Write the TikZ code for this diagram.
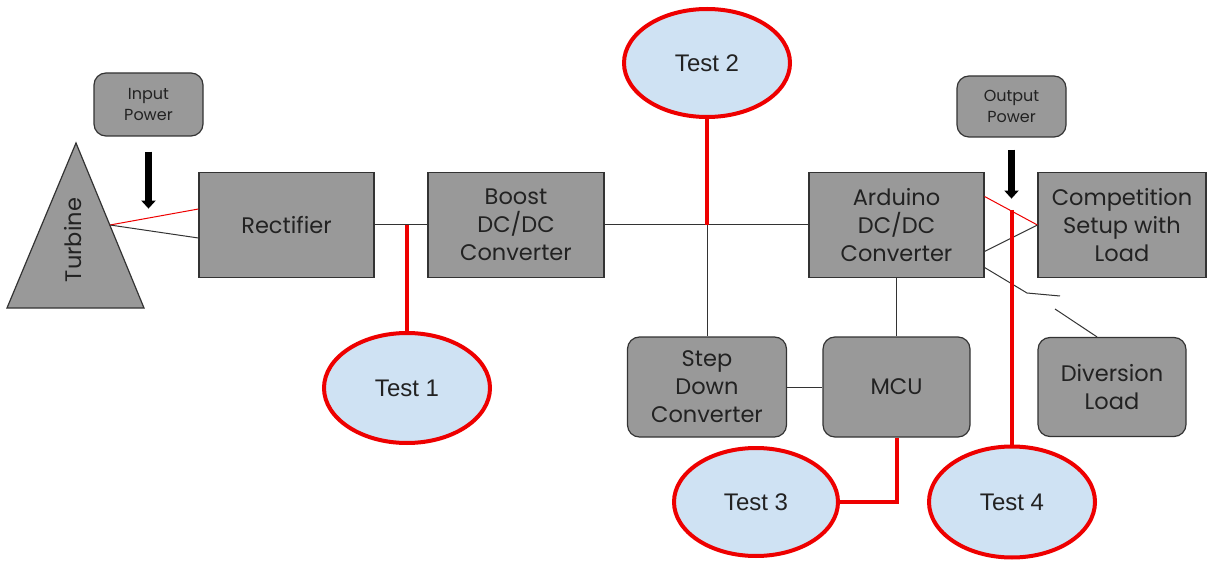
\documentclass[tikz,border=0pt]{standalone}
\usepackage{fontspec}
\setmainfont{Poppins}
\newfontfamily\testfont{Liberation Sans}
\usetikzlibrary{shapes.geometric,arrows.meta,calc}
\definecolor{boxgray}{HTML}{999999}
\definecolor{boxline}{HTML}{333333}
\definecolor{testblue}{HTML}{CFE2F3}
\definecolor{testred}{HTML}{EE0000}
\definecolor{inktext}{HTML}{222222}

\begin{document}
\begin{tikzpicture}[x=1pt,y=-1pt,
  block/.style={draw=boxline, line width=1.2pt, fill=boxgray, text=inktext,
    align=center, inner sep=0pt, font=\fontsize{22.5}{28}\selectfont},
  rblock/.style={block, rounded corners=12pt},
  smallbox/.style={rblock, font=\fontsize{16}{21}\selectfont},
  test/.style={ellipse, draw=testred, line width=4pt, fill=testblue, inner sep=0pt,
    minimum width=166, minimum height=110,
    font=\testfont\fontsize{24}{28}\selectfont, text=inktext},
  wire/.style={line width=1pt, draw=black!80},
  redwire/.style={line width=1pt, draw=testred},
  probe/.style={line width=4pt, draw=testred},
  feed/.style={line width=7pt, -{Triangle[width=14pt,length=8pt]}}
]
\useasboundingbox (0,0) rectangle (1207,561);

% turbine
\draw[draw=boxline, line width=1.2pt, fill=boxgray] (76,143) -- (144,308) -- (7,308) -- cycle;
\node[rotate=90, font=\fontsize{22.5}{28}\selectfont, text=inktext] (turb) at (73,240) {Turbine};
\coordinate (tout) at (110,225);

% main blocks
\node[block, minimum width=175, minimum height=105] (rect)  at (286.5,225) {Rectifier};
\node[block, minimum width=176, minimum height=105] (boost) at (516,225) {Boost\\DC/DC\\Converter};
\node[block, minimum width=175, minimum height=105] (ard)   at (896.5,225) {Arduino\\DC/DC\\Converter};
\node[block, minimum width=168, minimum height=105] (comp)  at (1122,225) {Competition\\Setup with\\Load};
\node[rblock, minimum width=159, minimum height=100] (sd)   at (707,387) {Step\\Down\\Converter};
\node[rblock, minimum width=147, minimum height=100] (mcu)  at (896.5,387) {MCU};
\node[rblock, minimum width=148, minimum height=99] (div)   at (1112,387) {Diversion\\Load};
\node[smallbox, minimum width=109, minimum height=63] (inp)  at (148.5,104.5) {Input\\Power};
\node[smallbox, minimum width=109, minimum height=61] (outp) at (1011.5,106.5) {Output\\Power};

% test points
\node[test] (t1) at (407,388) {Test 1};
\node[test, minimum height=108] (t2) at (707,63) {Test 2};
\node[test, minimum width=164, minimum height=108] (t3) at (756,502) {Test 3};
\node[test, minimum height=111] (t4) at (1012,502) {Test 4};

% power flow arrows
\draw[feed] ([yshift=-15]inp.south) -- ([yshift=-72]inp.south);
\draw[feed] ([yshift=-12]outp.south) -- ([yshift=-61]outp.south);

% wiring
\draw[redwire] (tout) -- ([yshift=16]rect.west);
\draw[wire] (tout) -- ([yshift=-13]rect.west);
\coordinate (j1) at (407,225);
\coordinate (j2) at (707,225);
\draw[wire] (rect.east) -- (boost.west);
\draw[wire] (boost.east) -- (ard.west);
\draw[wire] (j2) -- (sd.north);
\draw[wire] (ard.south) -- (mcu.north);
\draw[wire] (sd.east) -- (mcu.west);
\draw[redwire] ([yshift=28.5]ard.east) -- (comp.west);
\draw[wire] ([yshift=-26.5]ard.east) -- (comp.west);
% diversion switch
\coordinate (sw1) at (1027,293);
\coordinate (sw2) at (1060,296);
\coordinate (sw3) at (1055,309);
\draw[wire] ([yshift=-42.5]ard.east) -- (sw1) -- (sw2);
\draw[wire] (sw3) -- ([xshift=-15]div.north);

% measurement taps
\coordinate (p4) at (1012,210);
\draw[probe] (j1) -- (t1.north);
\draw[probe] (j2) -- (t2.south);
\draw[probe] (p4) -- (t4.north);
\draw[probe] (mcu.south) |- (t3.east);
\end{tikzpicture}
\end{document}
